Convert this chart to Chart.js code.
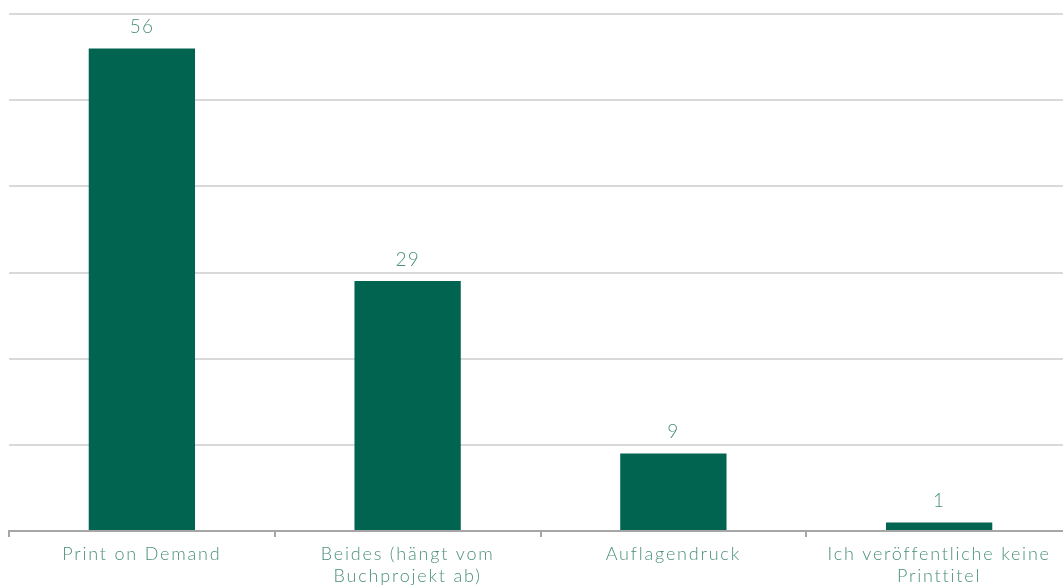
<!DOCTYPE html>
<html>
<head>
<meta charset="utf-8">
<script src="https://cdn.jsdelivr.net/npm/chart.js@4"></script>
<style>
  html, body { margin: 0; padding: 0; background: #fff; overflow: hidden; }
  #wrap { position: relative; width: 1072px; height: 586px; }
</style>
</head>
<body>
<div id="wrap"><canvas id="chart"></canvas></div>
<script>
const categories = [
  'Print on Demand',
  ['Beides (hängt vom', 'Buchprojekt ab)'],
  'Auflagendruck',
  ['Ich veröffentliche keine', 'Printtitel']
];
const values = [56, 29, 9, 1];

const barColor = '#016450';
const textColor = '#4a8f7c';
const fontFamily = 'Lato, "Open Sans", sans-serif';

// wider letter spacing, close to the thin geometric font of the original
const spacing = {
  id: 'spacing',
  beforeLayout(chart) { chart.ctx.letterSpacing = '1.8px'; },
  beforeDraw(chart) { chart.ctx.letterSpacing = '1.8px'; }
};

// draws the value above each bar
const valueLabels = {
  id: 'valueLabels',
  afterDatasetsDraw(chart) {
    const { ctx } = chart;
    const meta = chart.getDatasetMeta(0);
    ctx.save();
    ctx.letterSpacing = '1px';
    ctx.font = '300 19px ' + fontFamily;
    ctx.fillStyle = textColor;
    ctx.textAlign = 'center';
    ctx.textBaseline = 'bottom';
    meta.data.forEach((bar, i) => {
      ctx.fillText(String(values[i]), bar.x, bar.y - 12);
    });
    ctx.restore();
  }
};

new Chart(document.getElementById('chart'), {
  type: 'bar',
  data: {
    labels: categories,
    datasets: [{
      data: values,
      backgroundColor: barColor,
      borderWidth: 0,
      barPercentage: 0.4,
      categoryPercentage: 1
    }]
  },
  options: {
    responsive: true,
    maintainAspectRatio: false,
    animation: false,
    layout: { padding: { left: 9, top: 14, right: 0, bottom: 0 } },
    plugins: {
      legend: { display: false },
      tooltip: { enabled: false }
    },
    scales: {
      x: {
        offset: true,
        grid: {
          offset: true,
          drawOnChartArea: false,
          drawTicks: true,
          tickLength: 6,
          color: '#a6a6a6',
          lineWidth: 2
        },
        border: { display: true, color: '#a6a6a6', width: 2 },
        ticks: {
          color: textColor,
          padding: 6,
          maxRotation: 0,
          autoSkip: false,
          font: { family: fontFamily, size: 18, weight: '300', lineHeight: 1.22 }
        },
        afterFit(scale) { scale.height = 55; }
      },
      y: {
        min: 0,
        max: 60,
        ticks: { display: false, stepSize: 10 },
        grid: { color: '#d9d9d9', lineWidth: 2, drawTicks: false },
        border: { display: false },
        afterFit(scale) { scale.width = 0; }
      }
    }
  },
  plugins: [spacing, valueLabels]
});
</script>
</body>
</html>
